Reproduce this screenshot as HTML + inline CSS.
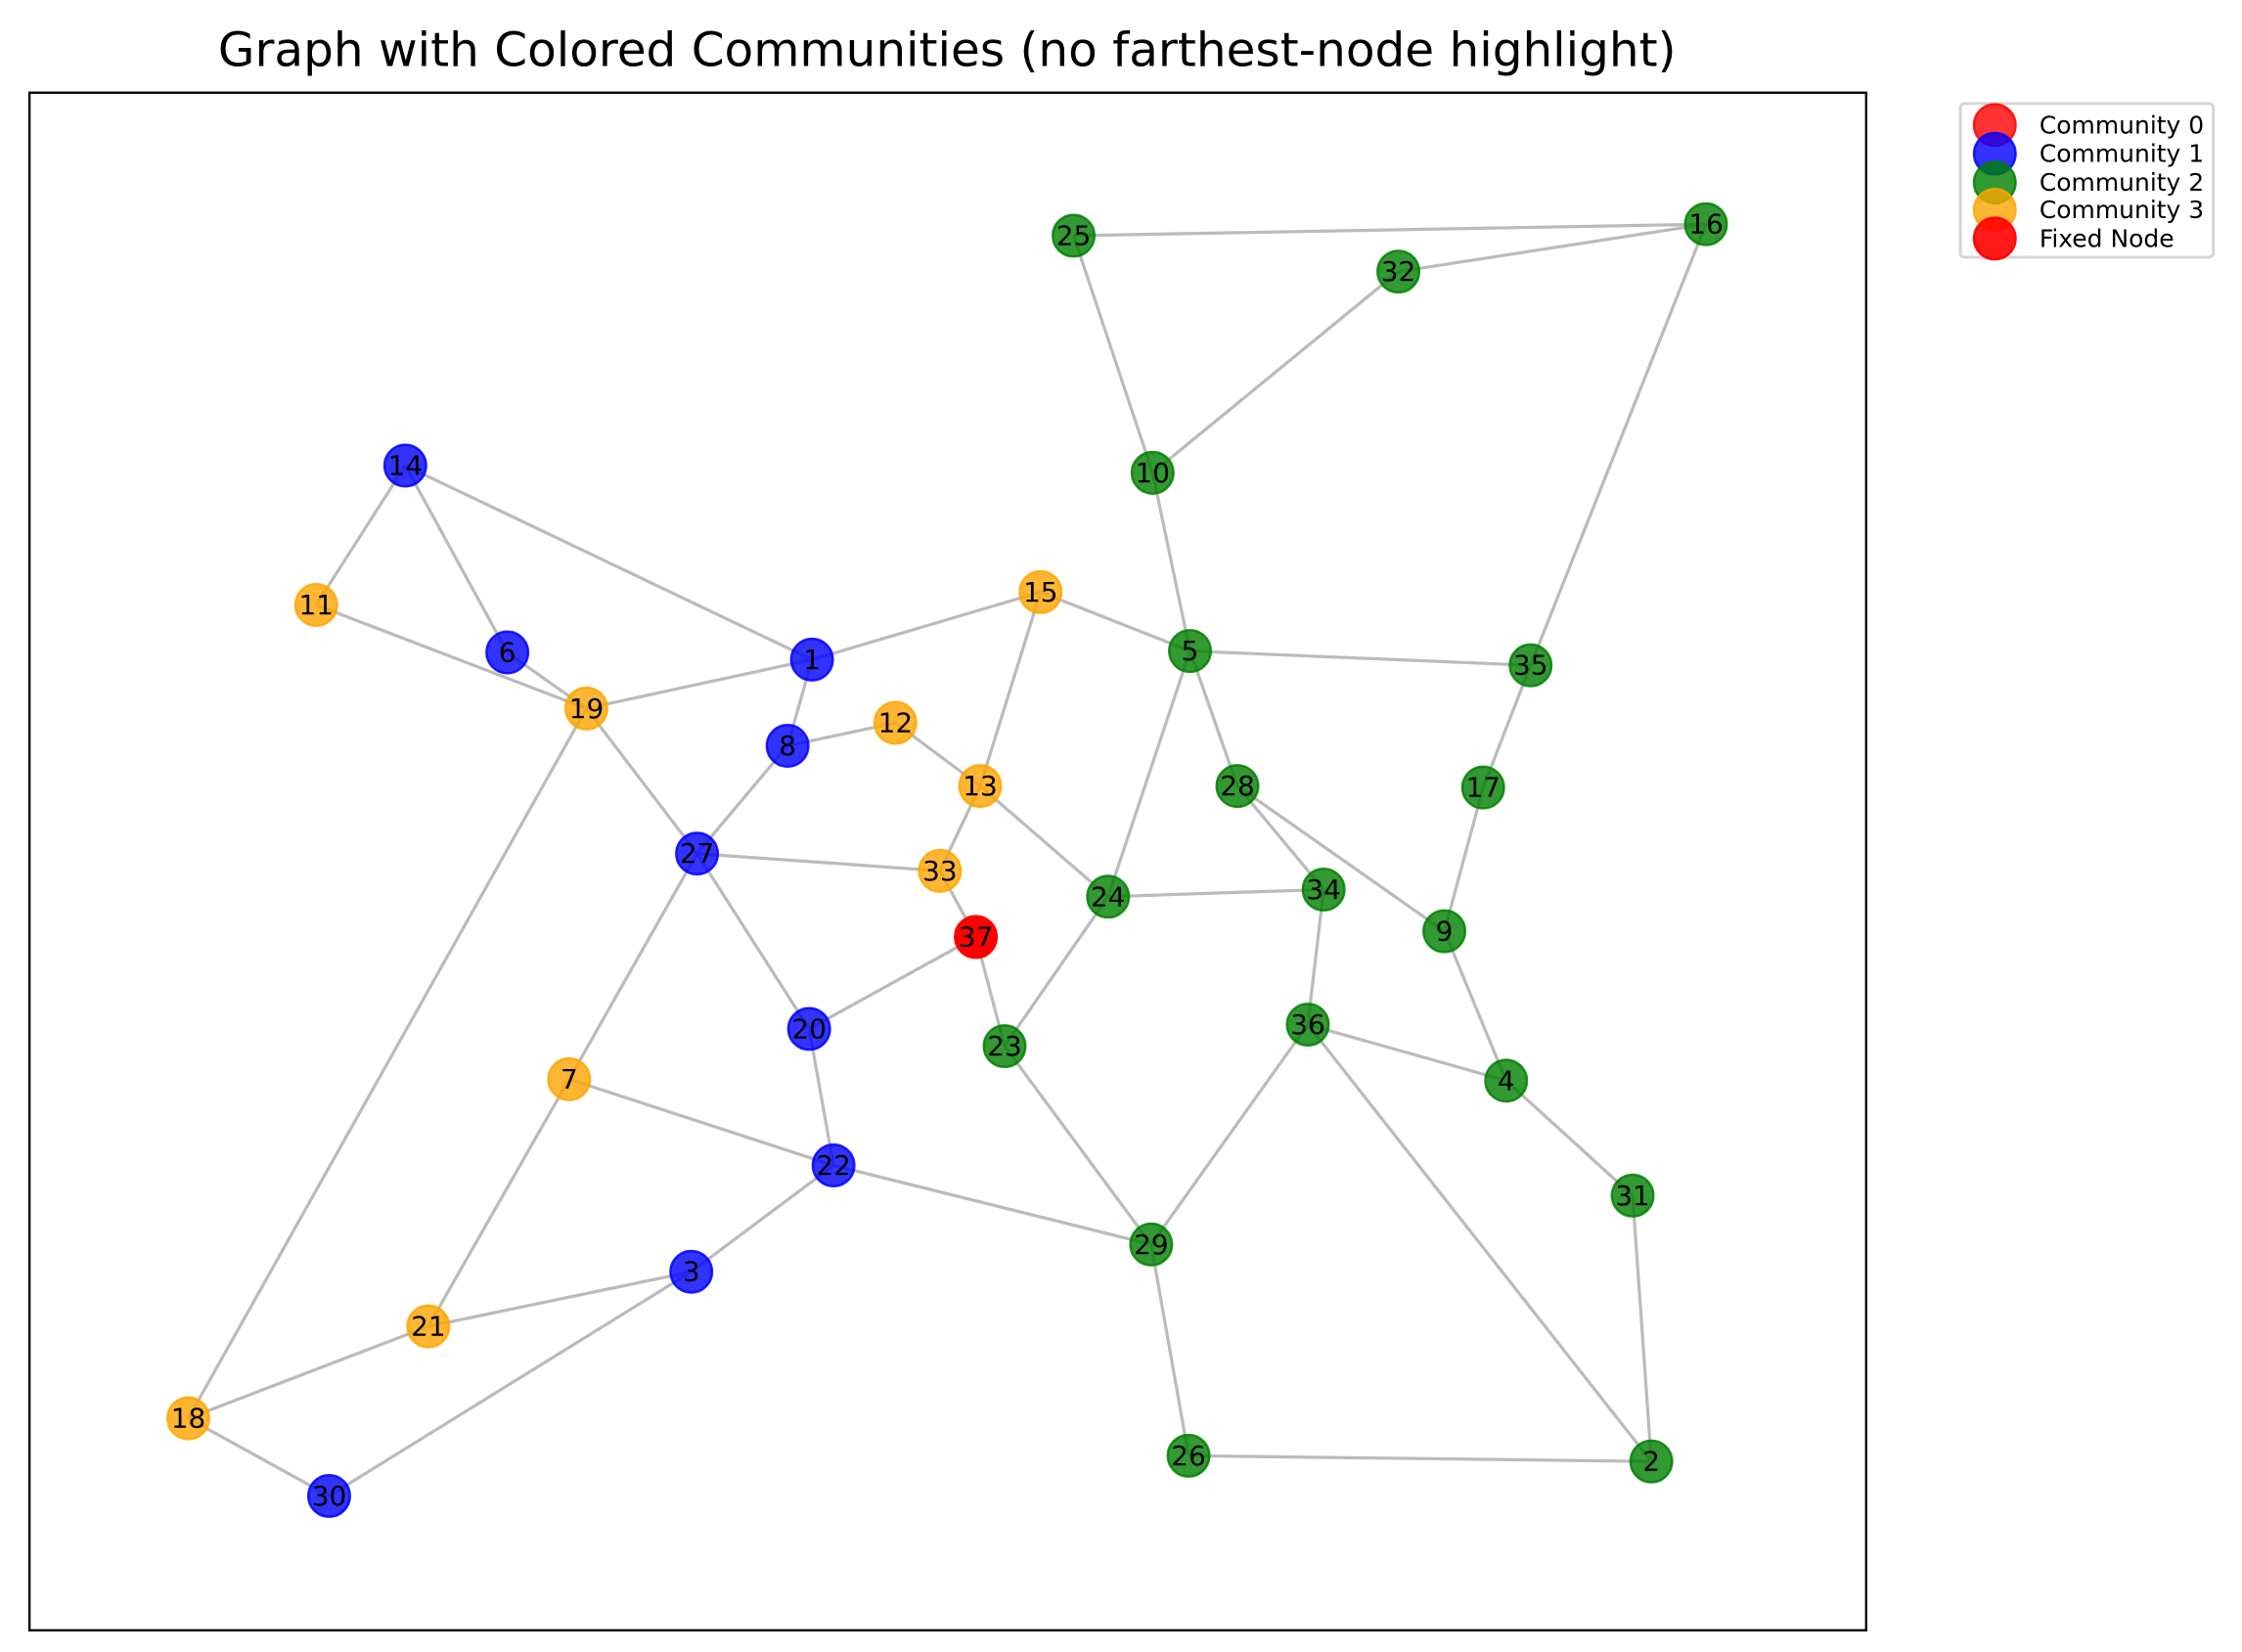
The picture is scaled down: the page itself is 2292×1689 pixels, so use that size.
<!DOCTYPE html>
<html><head><meta charset="utf-8"><style>html,body{margin:0;padding:0;background:#fff}svg{display:block}</style></head>
<body>
<svg width="2292" height="1689" viewBox="0 0 1560 1149.6" xmlns="http://www.w3.org/2000/svg" font-family="DejaVu Sans, Liberation Sans, sans-serif">
<rect x="0" y="0" width="1560" height="1150" fill="#fff"/>
<text x="659" y="46" font-size="33" text-anchor="middle">Graph with Colored Communities (no farthest-node highlight)</text>
<rect x="20.5" y="64.5" width="1278" height="1070" fill="none" stroke="#000" stroke-width="1.6"/>
<g stroke="#bbbbbb" stroke-width="2.2" fill="none">
<path d="M747,164L1187,156M973,189L1187,156M747,164L802,329M973,189L802,329M1187,156L1065,463M282,324L220,421M282,324L353,454M282,324L565,459M220,421L408,493M353,454L408,493M408,493L565,459M565,459L724,412M565,459L548,519M724,412L828,453M724,412L682,547M802,329L828,453M828,453L1065,463M828,453L861,547M828,453L771,624M1065,463L1032,548M1032,548L1005,648M861,547L921,619M861,547L1005,648M548,519L623,503M548,519L485,594M623,503L682,547M682,547L654,606M682,547L771,624M408,493L485,594M408,493L131,987M485,594L654,606M485,594L396,751M485,594L563,716M654,606L679,652M679,652L563,716M679,652L699,728M771,624L921,619M771,624L699,728M921,619L910,713M1005,648L1048,752M910,713L1048,752M910,713L801,866M910,713L1149,1017M1048,752L1136,832M1136,832L1149,1017M563,716L580,811M396,751L580,811M396,751L298,923M580,811L801,866M580,811L481,885M699,728L801,866M801,866L827,1013M827,1013L1149,1017M481,885L298,923M481,885L229,1041M298,923L131,987M131,987L229,1041"/>
</g>
<g stroke-width="1.6">
<g fill="rgba(0,0,255,0.8)" stroke="rgba(0,0,255,0.85)">
<circle cx="282" cy="324" r="14.5"/><circle cx="353" cy="454" r="14.5"/><circle cx="565" cy="459" r="14.5"/><circle cx="548" cy="519" r="14.5"/><circle cx="485" cy="594" r="14.5"/><circle cx="563" cy="716" r="14.5"/><circle cx="580" cy="811" r="14.5"/><circle cx="481" cy="885" r="14.5"/><circle cx="229" cy="1041" r="14.5"/>
</g>
<g fill="rgba(0,128,0,0.8)" stroke="rgba(0,128,0,0.85)">
<circle cx="747" cy="164" r="14.5"/><circle cx="1187" cy="156" r="14.5"/><circle cx="973" cy="189" r="14.5"/><circle cx="802" cy="329" r="14.5"/><circle cx="828" cy="453" r="14.5"/><circle cx="1065" cy="463" r="14.5"/><circle cx="861" cy="547" r="14.5"/><circle cx="1032" cy="548" r="14.5"/><circle cx="921" cy="619" r="14.5"/><circle cx="771" cy="624" r="14.5"/><circle cx="1005" cy="648" r="14.5"/><circle cx="910" cy="713" r="14.5"/><circle cx="699" cy="728" r="14.5"/><circle cx="1048" cy="752" r="14.5"/><circle cx="1136" cy="832" r="14.5"/><circle cx="801" cy="866" r="14.5"/><circle cx="827" cy="1013" r="14.5"/><circle cx="1149" cy="1017" r="14.5"/>
</g>
<g fill="rgba(255,165,0,0.8)" stroke="rgba(255,165,0,0.85)">
<circle cx="220" cy="421" r="14.5"/><circle cx="724" cy="412" r="14.5"/><circle cx="408" cy="493" r="14.5"/><circle cx="623" cy="503" r="14.5"/><circle cx="682" cy="547" r="14.5"/><circle cx="654" cy="606" r="14.5"/><circle cx="396" cy="751" r="14.5"/><circle cx="298" cy="923" r="14.5"/><circle cx="131" cy="987" r="14.5"/>
</g>
<circle cx="679" cy="652" r="14.5" fill="#ff0000" stroke="#ff0000"/>
</g>
<g font-size="19" text-anchor="middle" fill="#000" dominant-baseline="central">
<text x="282" y="324">14</text><text x="353" y="454">6</text><text x="565" y="459">1</text><text x="548" y="519">8</text><text x="485" y="594">27</text><text x="563" y="716">20</text><text x="580" y="811">22</text><text x="481" y="885">3</text><text x="229" y="1041">30</text>
<text x="747" y="164">25</text><text x="1187" y="156">16</text><text x="973" y="189">32</text><text x="802" y="329">10</text><text x="828" y="453">5</text><text x="1065" y="463">35</text><text x="861" y="547">28</text><text x="1032" y="548">17</text><text x="921" y="619">34</text><text x="771" y="624">24</text><text x="1005" y="648">9</text><text x="910" y="713">36</text><text x="699" y="728">23</text><text x="1048" y="752">4</text><text x="1136" y="832">31</text><text x="801" y="866">29</text><text x="827" y="1013">26</text><text x="1149" y="1017">2</text>
<text x="220" y="421">11</text><text x="724" y="412">15</text><text x="408" y="493">19</text><text x="623" y="503">12</text><text x="682" y="547">13</text><text x="654" y="606">33</text><text x="396" y="751">7</text><text x="298" y="923">21</text><text x="131" y="987">18</text>
<text x="679" y="652">37</text>
</g>
<rect x="1364" y="72" width="176" height="107" rx="3" fill="#fff" stroke="#d5d5d5" stroke-width="2"/>
<g stroke-width="1.6">
<circle cx="1388" cy="87" r="14.5" fill="rgba(255,0,0,0.8)" stroke="rgba(255,0,0,0.85)"/>
<circle cx="1388" cy="107" r="14.5" fill="rgba(0,0,255,0.8)" stroke="rgba(0,0,255,0.85)"/>
<circle cx="1388" cy="127" r="14.5" fill="rgba(0,128,0,0.8)" stroke="rgba(0,128,0,0.85)"/>
<circle cx="1388" cy="146" r="14.5" fill="rgba(255,165,0,0.8)" stroke="rgba(255,165,0,0.85)"/>
<circle cx="1388" cy="166" r="14.5" fill="rgba(255,0,0,0.9)" stroke="rgba(255,0,0,0.95)"/>
</g>
<g font-size="17" fill="#000" dominant-baseline="central">
<text x="1419" y="87">Community 0</text>
<text x="1419" y="107">Community 1</text>
<text x="1419" y="127">Community 2</text>
<text x="1419" y="146">Community 3</text>
<text x="1419" y="166">Fixed Node</text>
</g>
</svg>
</body></html>
